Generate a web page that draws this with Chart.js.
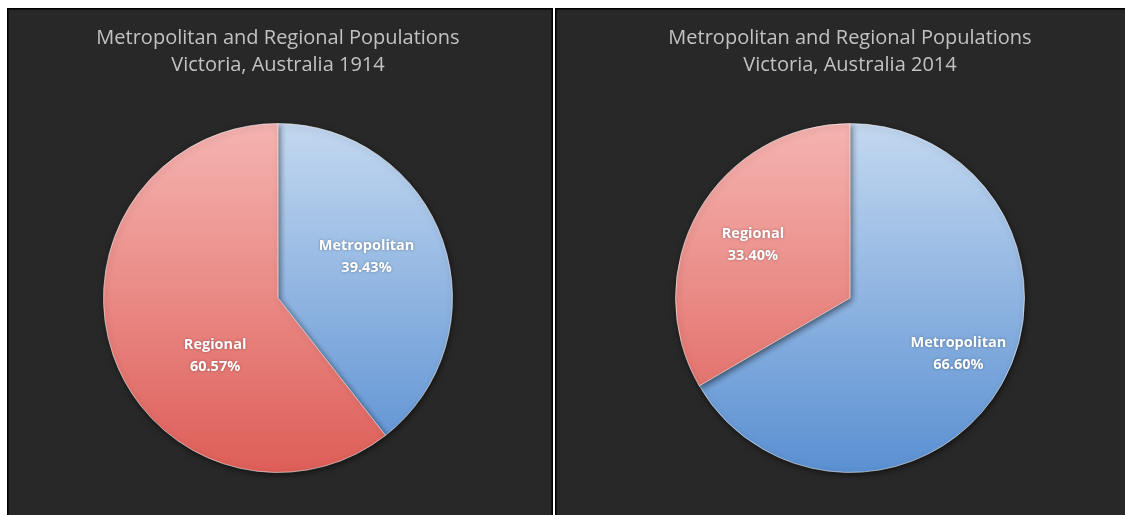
<!DOCTYPE html>
<html>
<head>
<meta charset="utf-8">
<script src="https://cdn.jsdelivr.net/npm/chart.js@4/dist/chart.umd.min.js"></script>
<style>
  html, body { margin: 0; padding: 0; background: #ffffff; width: 1125px; height: 515px; overflow: hidden; }
  .panel { position: absolute; top: 8px; background: #282828; border: 1px solid #000; box-shadow: inset 0 0 0 1px #111; overflow: hidden; }
  #p1 { left: 7px; width: 544px; height: 520px; }
  #p2 { left: 555px; width: 600px; height: 520px; }
  .panel canvas { position: absolute; top: 0; }
</style>
</head>
<body>
<div class="panel" id="p1"><canvas id="c1"></canvas></div>
<div class="panel" id="p2"><canvas id="c2"></canvas></div>
<script>
// ---- data ----
const categories = ["Metropolitan", "Regional"];
const values1914 = [39.43, 60.57];
const values2014 = [66.60, 33.40];
const title1914 = ["Metropolitan and Regional Populations", "Victoria, Australia 1914"];
const title2014 = ["Metropolitan and Regional Populations", "Victoria, Australia 2014"];

// ---- styles ----
const gradStops = [
  ["#c3d8f0", "#5a90d2"],  // Metropolitan (blue)
  ["#f5b4b1", "#de5e58"]   // Regional (red)
];

function sliceColor(ctx) {
  const chart = ctx.chart;
  const area = chart.chartArea;
  if (!area) return gradStops[ctx.dataIndex][1];
  const g = chart.ctx.createLinearGradient(0, area.top, 0, area.bottom);
  g.addColorStop(0, gradStops[ctx.dataIndex][0]);
  g.addColorStop(1, gradStops[ctx.dataIndex][1]);
  return g;
}

const shadowPlugin = {
  id: 'pieShadow',
  beforeDatasetsDraw(chart) {
    const c = chart.ctx;
    c.save();
    c.shadowColor = 'rgba(0,0,0,0.55)';
    c.shadowBlur = 6;
    c.shadowOffsetX = 1;
    c.shadowOffsetY = 2;
  },
  afterDatasetsDraw(chart) { chart.ctx.restore(); }
};

const labelPlugin = {
  id: 'sliceLabels',
  afterDatasetsDraw(chart, args, opts) {
    const c = chart.ctx;
    const meta = chart.getDatasetMeta(0);
    const data = chart.data.datasets[0].data;
    c.save();
    c.fillStyle = '#ffffff';
    c.textAlign = 'center';
    c.textBaseline = 'middle';
    c.font = 'bold 14.5px "Open Sans", sans-serif';
    c.shadowColor = 'rgba(0,0,0,0.35)';
    c.shadowBlur = 3;
    meta.data.forEach((arc, i) => {
      const p = arc.getProps(['x', 'y', 'startAngle', 'endAngle', 'outerRadius'], true);
      const mid = (p.startAngle + p.endAngle) / 2 + opts.angleShift[i] * Math.PI / 180;
      const r = p.outerRadius * opts.radius[i];
      const x = p.x + Math.cos(mid) * r;
      const y = p.y + Math.sin(mid) * r;
      c.fillText(chart.data.labels[i], x, y - 11);
      c.fillText(data[i].toFixed(2) + '%', x, y + 11);
    });
    c.restore();
  }
};

function makeChart(id, cssW, values, title, labelOpts) {
  const canvas = document.getElementById(id);
  canvas.style.width = cssW + 'px';
  canvas.style.height = '506px';
  canvas.width = cssW;
  canvas.height = 506;
  return new Chart(canvas, {
    type: 'pie',
    data: {
      labels: categories,
      datasets: [{
        data: values,
        backgroundColor: sliceColor,
        borderColor: 'rgba(255,255,255,0.55)',
        borderWidth: 1
      }]
    },
    options: {
      responsive: false,
      animation: false,
      layout: { padding: { top: 0, bottom: 42, left: 0, right: 0 } },
      plugins: {
        legend: { display: false },
        tooltip: { enabled: false },
        title: {
          display: true,
          text: title,
          color: '#c2c2c2',
          font: { family: '"Open Sans", sans-serif', size: 20, weight: 'normal', lineHeight: '27px' },
          padding: { top: 16, bottom: 44 }
        },
        sliceLabels: labelOpts
      }
    },
    plugins: [shadowPlugin, labelPlugin]
  });
}

makeChart('c1', 540, values1914, title1914, { radius: [0.56, 0.49], angleShift: [-6, -23.6] });
makeChart('c2', 588, values2014, title2014, { radius: [0.70, 0.635], angleShift: [-2.4, -1] });
</script>
</body>
</html>
